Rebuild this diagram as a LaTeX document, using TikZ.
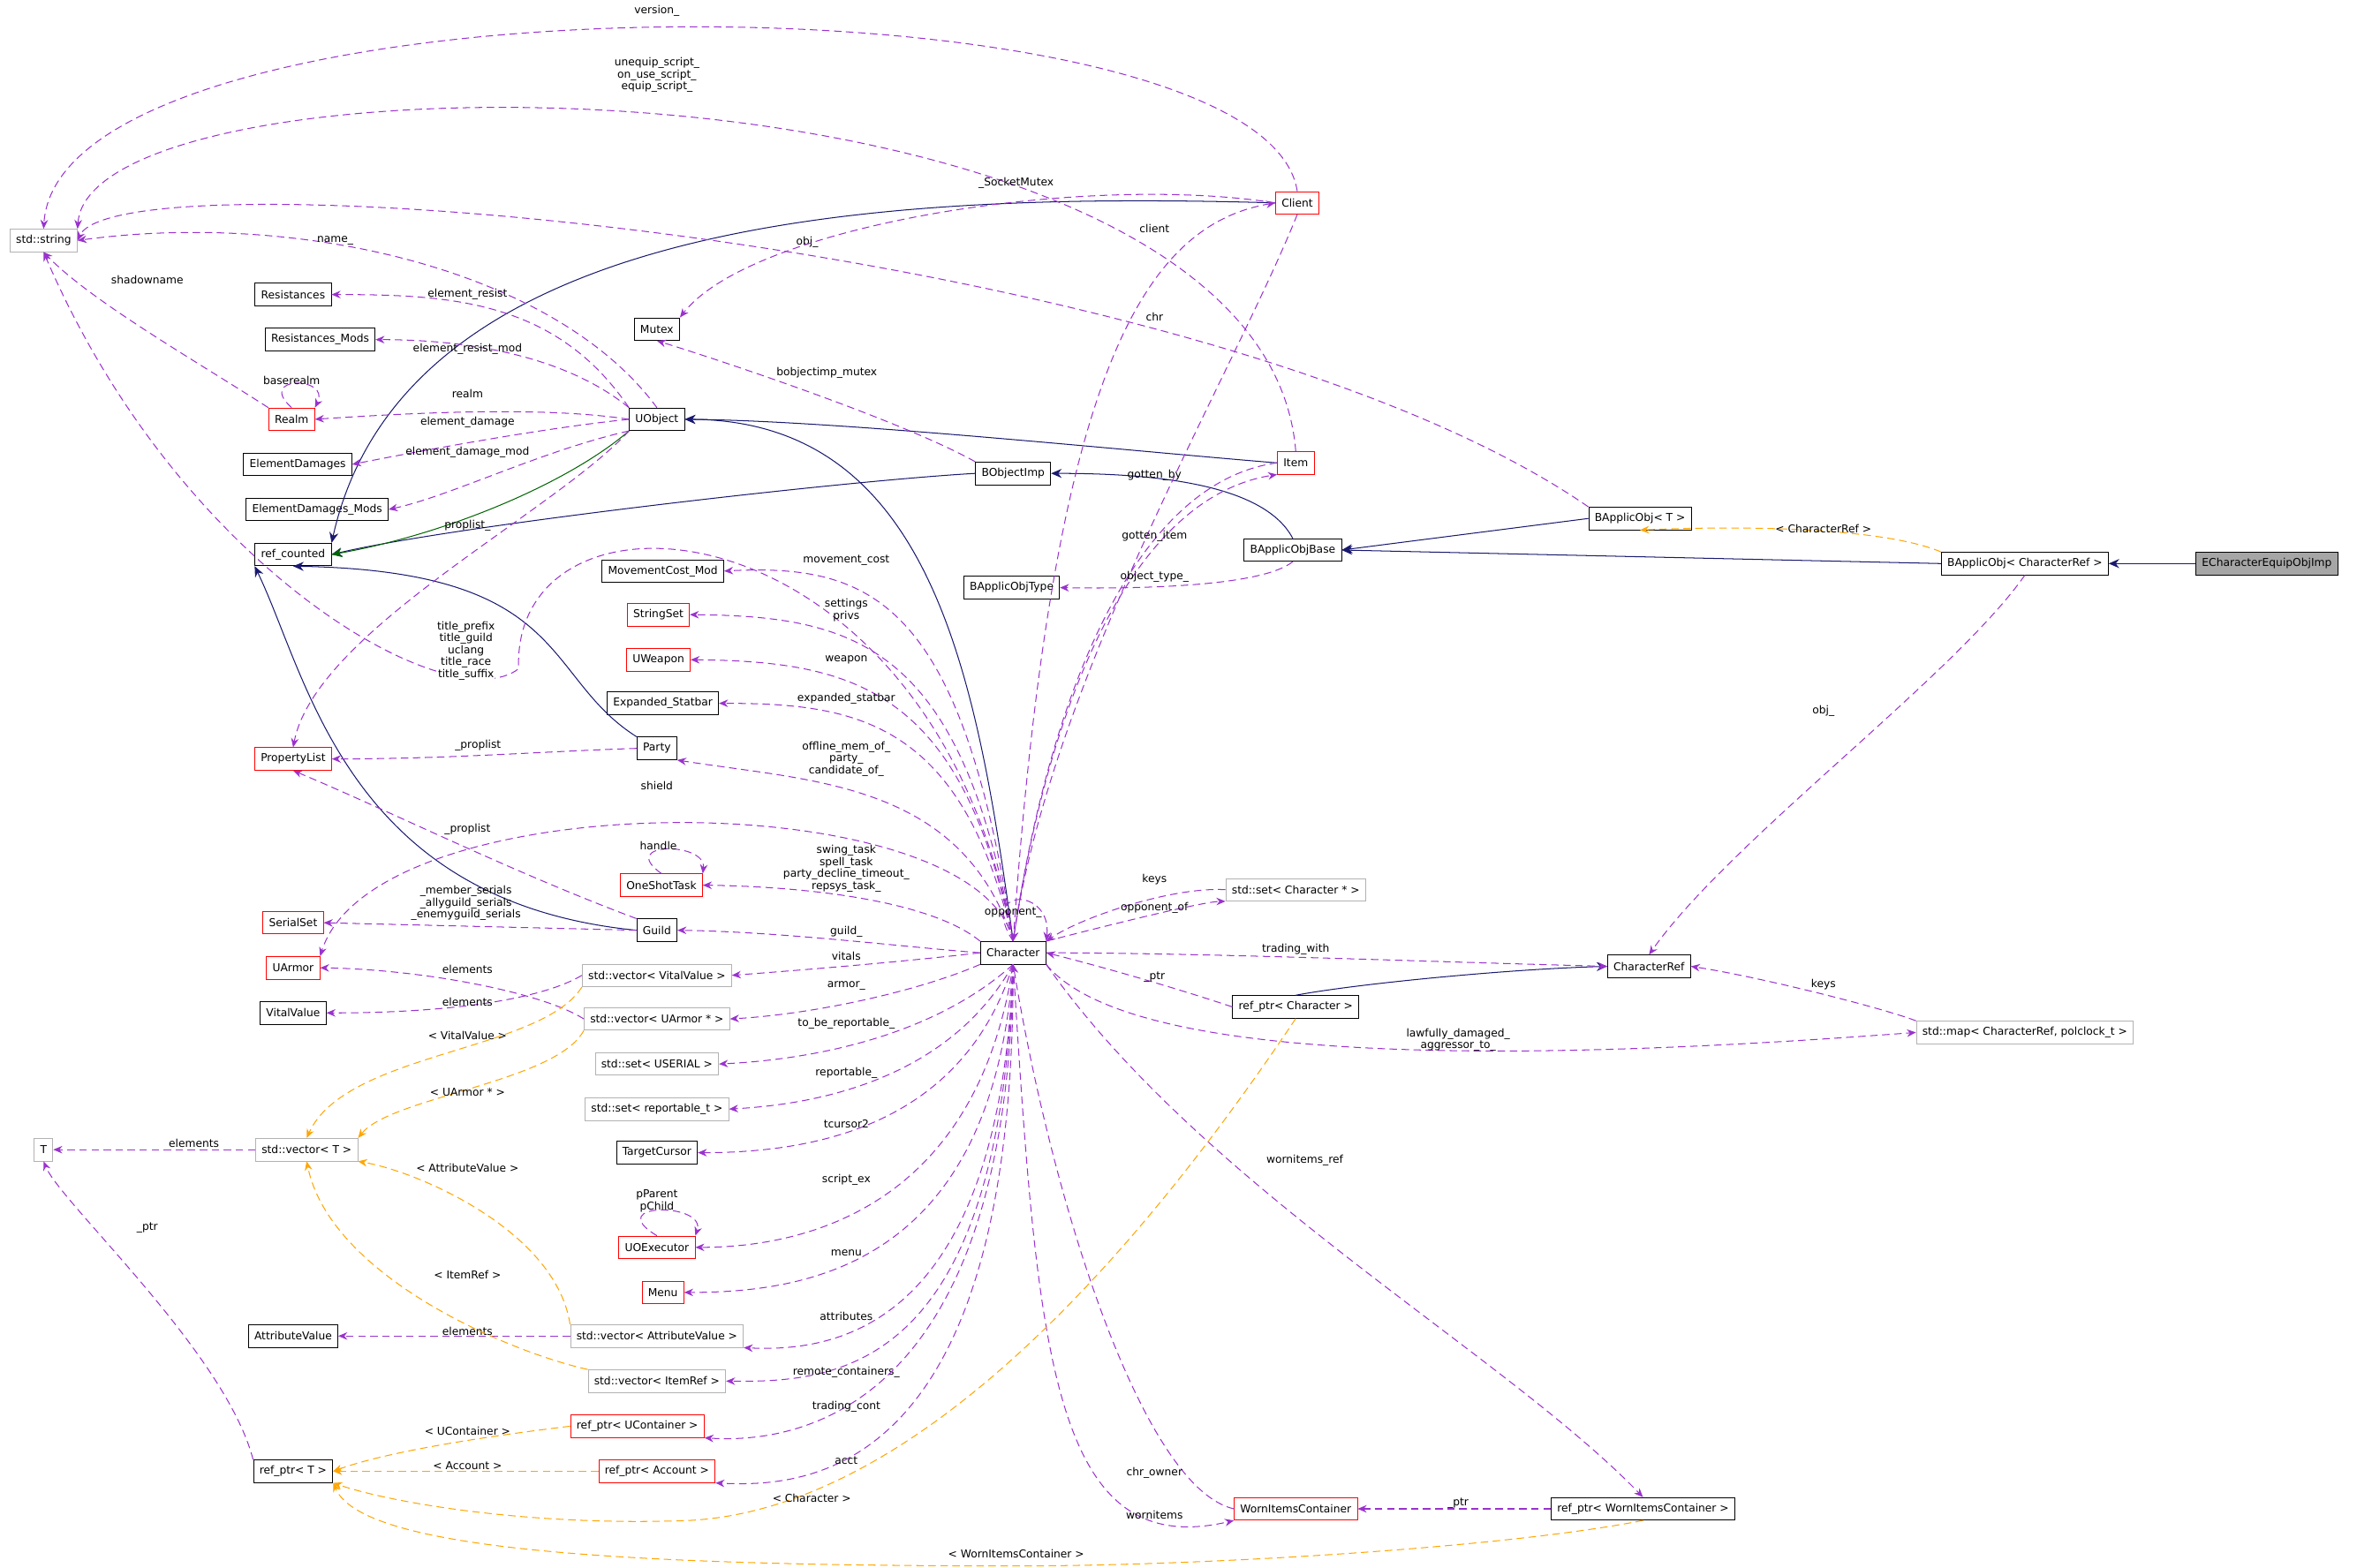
\documentclass[tikz,border=0pt]{standalone}
\usepackage{fontspec}
\setmainfont{DejaVu Sans}
\usetikzlibrary{arrows.meta}
\definecolor{usecol}{RGB}{154,50,205}
\definecolor{inhcol}{RGB}{25,25,112}
\definecolor{tplcol}{RGB}{255,165,0}
\definecolor{grncol}{RGB}{0,100,0}
\tikzset{
  cls/.style={draw=black,fill=white,font=\fontsize{7.2}{8}\selectfont,inner xsep=4pt,inner ysep=0pt,minimum height=15pt,line width=0.5pt},
  redcls/.style={cls,draw=red},
  graycls/.style={cls,draw=black!30},
  lbl/.style={font=\fontsize{7.2}{8}\selectfont,align=center,inner sep=0pt},
  use/.style={draw=usecol,dashed,dash pattern=on 5pt off 3pt,-{Stealth[length=6pt,width=5pt]}},
  inh/.style={draw=inhcol,-{Stealth[length=7pt,width=6pt]}},
  tpl/.style={draw=tplcol,dashed,dash pattern=on 5pt off 3pt,-{Stealth[length=6pt,width=5pt]}},
}
\begin{document}
\begin{tikzpicture}[x=1pt,y=1pt,yscale=-1,line width=0.6pt]
\useasboundingbox (0,0) rectangle (1568,1043);

% left column
\node[graycls] (string) at (29,160) {std::string};
\node[graycls] (T) at (29,765) {T};
\node[cls] (resist) at (195,196) {Resistances};
\node[cls] (resistmods) at (213,226) {Resistances\_Mods};
\node[redcls] (realm) at (194,279) {Realm};
\node[cls] (eldmg) at (198,309) {ElementDamages};
\node[cls] (eldmgmods) at (211,339) {ElementDamages\_Mods};
\node[cls] (refcounted) at (195,369) {ref\_counted};
\node[redcls] (proplist) at (195,505) {PropertyList};
\node[redcls] (serialset) at (195,614) {SerialSet};
\node[redcls] (uarmor) at (195,644) {UArmor};
\node[cls] (vital) at (195,674) {VitalValue};
\node[graycls] (vecT) at (204,765) {std::vector< T >};
\node[cls] (attrval) at (195,889) {AttributeValue};
\node[cls] (refptrT) at (195,979) {ref\_ptr< T >};

% middle column
\node[cls] (mutex) at (437,219) {Mutex};
\node[cls] (uobject) at (437,279) {UObject};
\node[cls] (movcost) at (441,380) {MovementCost\_Mod};
\node[redcls] (stringset) at (438,409) {StringSet};
\node[redcls] (uweapon) at (438,439) {UWeapon};
\node[cls] (statbar) at (441,468) {Expanded\_Statbar};
\node[cls] (party) at (437,498) {Party};
\node[redcls] (oneshot) at (440,589) {OneShotTask};
\node[cls] (guild) at (437,619) {Guild};
\node[graycls] (vecvital) at (437,649) {std::vector< VitalValue >};
\node[graycls] (vecarmor) at (437,678) {std::vector< UArmor * >};
\node[graycls] (setserial) at (437,708) {std::set< USERIAL >};
\node[graycls] (setrep) at (437,738) {std::set< reportable\_t >};
\node[cls] (tcursor) at (437,767) {TargetCursor};
\node[redcls] (uoexec) at (437,830) {UOExecutor};
\node[redcls] (menu) at (441,860) {Menu};
\node[graycls] (vecattr) at (437,889) {std::vector< AttributeValue >};
\node[graycls] (vecitem) at (437,919) {std::vector< ItemRef >};
\node[redcls] (refcont) at (424,949) {ref\_ptr< UContainer >};
\node[redcls] (refacct) at (437,979) {ref\_ptr< Account >};

% right part
\node[cls] (bobjimp) at (674,315) {BObjectImp};
\node[cls] (applictype) at (673,391) {BApplicObjType};
\node[cls] (char) at (674,634) {Character};
\node[redcls] (client) at (863,135) {Client};
\node[redcls] (item) at (862,308) {Item};
\node[cls] (applicbase) at (860,366) {BApplicObjBase};
\node[graycls] (setchar) at (862,592) {std::set< Character * >};
\node[cls] (refchar) at (862,670) {ref\_ptr< Character >};
\node[redcls] (worn) at (862,1004) {WornItemsContainer};
\node[cls] (applicT) at (1091,345) {BApplicObj< T >};
\node[cls] (charref) at (1097,643) {CharacterRef};
\node[cls] (refworn) at (1093,1004) {ref\_ptr< WornItemsContainer >};
\node[cls] (applicref) at (1347,375) {BApplicObj< CharacterRef >};
\node[graycls] (map) at (1347,687) {std::map< CharacterRef, polclock\_t >};
\node[cls,fill=black!35] (ecef) at (1508,375) {ECharacterEquipObjImp};

% inheritance
\draw[inh] (ecef) -- (applicref);
\draw[inh] (applicref.west) -- (applicbase.east);
\draw[inh] (applicT.west) -- (applicbase.east);
\draw[inh] (applicbase.north) .. controls (840,320) and (760,315) .. (bobjimp.east);
\draw[inh] (bobjimp.west) .. controls (560,320) and (300,350) .. (refcounted.east);
\draw[inh] (client.west) .. controls (600,128) and (270,140) .. (refcounted.north east);
\draw[inh,draw=grncol] (uobject.south west) .. controls (380,320) and (300,355) .. (refcounted.east);
\draw[inh] (party.north west) .. controls (360,450) and (380,380) .. (refcounted.south);
\draw[inh] (guild.west) .. controls (230,600) and (205,450) .. (refcounted.south west);
\draw[inh] (char.north) .. controls (650,450) and (620,280) .. (uobject.east);
\draw[inh] (item.west) .. controls (750,300) and (560,280) .. (uobject.east);
\draw[inh] (refchar.north) .. controls (900,655) and (1000,645) .. (charref.west);

% usage top
\draw[use] (client.north) .. controls (840,-22) and (40,-22) .. (string.north);
\node[lbl] (l-version) at (437,7) {version\_};
\draw[use] (item.north) .. controls (840,28) and (60,28) .. (string.north east);
\node[lbl] (l-script) at (437,50) {unequip\_script\_\\on\_use\_script\_\\equip\_script\_};
\draw[use] (applicT.north west) .. controls (800,160) and (80,100) .. (string.east);
\node[lbl] (l-obj) at (537,161) {obj\_};
\draw[use] (client.west) .. controls (720,115) and (500,150) .. (mutex.north east);
\node[lbl] (l-sock) at (676,122) {\_SocketMutex};
\draw[use] (uobject.north) .. controls (370,180) and (200,140) .. (string.east);
\node[lbl] (l-name) at (223,160) {name\_};
\draw[use] (realm.north west) .. controls (130,240) and (60,200) .. (string.south);
\node[lbl] (l-shadow) at (98,186) {shadowname};
\draw[use] (realm.north) .. controls (170,250) and (220,250) .. (realm.north east);
\node[lbl] (l-base) at (194,253) {baserealm};
\draw[use] (bobjimp.north west) .. controls (600,280) and (480,240) .. (mutex.south);
\node[lbl] (l-bmutex) at (550,248) {bobjectimp\_mutex};

% UObject members
\draw[use] (uobject.north west) .. controls (370,200) and (300,196) .. (resist.east);
\node[lbl] (l-er) at (311,196) {element\_resist};
\draw[use] (uobject.north west) .. controls (380,240) and (320,226) .. (resistmods.east);
\node[lbl] (l-erm) at (311,232) {element\_resist\_mod};
\draw[use] (uobject.west) .. controls (360,270) and (270,275) .. (realm.east);
\node[lbl] (l-realm) at (311,262) {realm};
\draw[use] (uobject.west) .. controls (360,285) and (280,300) .. (eldmg.east);
\node[lbl] (l-ed) at (311,281) {element\_damage};
\draw[use] (uobject.south west) .. controls (360,300) and (300,330) .. (eldmgmods.east);
\node[lbl] (l-edm) at (311,301) {element\_damage\_mod};
\draw[use] (uobject.south west) .. controls (370,340) and (210,420) .. (proplist.north);
\node[lbl] (l-prop) at (311,350) {proplist\_};

% Character members, upper
\draw[use] (char.north) .. controls (620,330) and (340,310) .. (345,445) .. controls (300,480) and (120,380) .. (string.south);
\node[lbl,fill=white] (l-title) at (310,433) {title\_prefix\\title\_guild\\uclang\\title\_race\\title\_suffix};
\draw[use] (char.north) .. controls (640,400) and (580,375) .. (movcost.east);
\node[lbl] (l-mov) at (563,373) {movement\_cost};
\draw[use] (char.north) .. controls (640,430) and (570,410) .. (stringset.east);
\node[lbl] (l-set) at (563,406) {settings\\privs};
\draw[use] (char.north) .. controls (640,460) and (570,440) .. (uweapon.east);
\node[lbl] (l-weap) at (563,439) {weapon};
\draw[use] (char.north) .. controls (640,480) and (570,468) .. (statbar.east);
\node[lbl] (l-stat) at (563,465) {expanded\_statbar};
\draw[use] (char.north) .. controls (640,520) and (540,520) .. (party.south east);
\node[lbl] (l-party) at (563,505) {offline\_mem\_of\_\\party\_\\candidate\_of\_};
\draw[use] (char.north) .. controls (650,520) and (250,520) .. (uarmor.north east);
\node[lbl] (l-shield) at (437,523) {shield};
\draw[use] (char.north west) .. controls (620,600) and (540,590) .. (oneshot.east);
\node[lbl] (l-task) at (563,578) {swing\_task\\spell\_task\\party\_decline\_timeout\_\\repsys\_task\_};
\draw[use] (oneshot.north) .. controls (410,560) and (470,560) .. (oneshot.north east);
\node[lbl] (l-handle) at (438,563) {handle};
\draw[use] (party.west) .. controls (360,500) and (300,505) .. (proplist.east);
\node[lbl] (l-pp1) at (318,496) {\_proplist};
\draw[use] (guild.north west) .. controls (340,580) and (260,540) .. (proplist.south);
\node[lbl] (l-pp2) at (311,552) {\_proplist};
\draw[use] (guild.west) -- (serialset.east);
\node[lbl] (l-ser) at (310,601) {\_member\_serials\\\_allyguild\_serials\\\_enemyguild\_serials};

% Character members, lower
\draw[use] (char.west) .. controls (600,630) and (520,620) .. (guild.east);
\node[lbl] (l-guild) at (563,620) {guild\_};
\draw[use] (char.west) .. controls (600,640) and (540,645) .. (vecvital.east);
\node[lbl] (l-vitals) at (563,636) {vitals};
\draw[use] (char.south west) .. controls (610,660) and (540,675) .. (vecarmor.east);
\node[lbl] (l-armor) at (563,656) {armor\_};
\draw[use] (char.south) .. controls (620,690) and (540,705) .. (setserial.east);
\node[lbl] (l-tbr) at (563,681) {to\_be\_reportable\_};
\draw[use] (char.south) .. controls (630,720) and (540,735) .. (setrep.east);
\node[lbl] (l-rep) at (563,714) {reportable\_};
\draw[use] (char.south) .. controls (640,750) and (540,767) .. (tcursor.east);
\node[lbl] (l-tc) at (563,748) {tcursor2};
\draw[use] (char.south) .. controls (650,800) and (540,830) .. (uoexec.east);
\node[lbl] (l-se) at (563,785) {script\_ex};
\draw[use] (uoexec.north) .. controls (400,800) and (470,800) .. (uoexec.north east);
\node[lbl] (l-pp) at (437,799) {pParent\\pChild};
\draw[use] (char.south) .. controls (660,840) and (540,860) .. (menu.east);
\node[lbl] (l-menu) at (563,834) {menu};
\draw[use] (char.south) .. controls (665,880) and (560,900) .. (vecattr.south east);
\node[lbl] (l-attr) at (563,876) {attributes};
\draw[use] (char.south) .. controls (665,910) and (560,920) .. (vecitem.east);
\node[lbl] (l-rc) at (563,913) {remote\_containers\_};
\draw[use] (char.south) .. controls (670,950) and (520,960) .. (refcont.south east);
\node[lbl] (l-tcont) at (563,936) {trading\_cont};
\draw[use] (char.south) .. controls (675,980) and (540,990) .. (refacct.south east);
\node[lbl] (l-acct) at (563,972) {acct};
\draw[use] (vecvital.west) .. controls (360,665) and (300,674) .. (vital.east);
\node[lbl] (l-el1) at (311,667) {elements};
\draw[use] (vecarmor.west) .. controls (360,660) and (280,645) .. (uarmor.east);
\node[lbl] (l-el2) at (311,645) {elements};
\draw[use] (vecattr.west) -- (attrval.east);
\node[lbl] (l-el3) at (311,886) {elements};
\draw[use] (vecT.west) -- (T.east);
\node[lbl] (l-el4) at (129,761) {elements};
\draw[use] (refptrT.north west) .. controls (150,900) and (40,800) .. (T.south);
\node[lbl] (l-ptr1) at (98,817) {\_ptr};

% Character, right side
\draw[use] (char.north) .. controls (700,250) and (760,150) .. (client.west);
\node[lbl] (l-client) at (768,152) {client};
\draw[use] (client.south) .. controls (820,250) and (700,450) .. (char.north);
\node[lbl] (l-chr) at (768,211) {chr};
\draw[use] (item.west) .. controls (760,320) and (700,450) .. (char.north);
\node[lbl] (l-gby) at (768,316) {gotten\_by};
\draw[use] (char.north) .. controls (700,450) and (760,330) .. (item.south west);
\node[lbl] (l-gitem) at (768,357) {gotten\_item};
\draw[use] (applicbase.south) .. controls (840,390) and (760,392) .. (applictype.east);
\node[lbl] (l-otype) at (768,384) {object\_type\_};
\draw[use] (char.north) .. controls (650,590) and (700,590) .. (char.north east);
\node[lbl] (l-opp) at (674,607) {opponent\_};
\draw[use] (setchar.west) .. controls (780,590) and (720,610) .. (char.north east);
\node[lbl] (l-keys1) at (768,585) {keys};
\draw[use] (char.north east) .. controls (740,615) and (800,600) .. (setchar.south west);
\node[lbl] (l-oppof) at (768,604) {opponent\_of};
\draw[use] (char.east) .. controls (800,634) and (950,640) .. (charref.west);
\node[lbl] (l-trade) at (862,632) {trading\_with};
\draw[use] (refchar.west) .. controls (790,660) and (740,645) .. (char.east);
\node[lbl] (l-ptr2) at (768,650) {\_ptr};
\draw[use] (char.south east) .. controls (760,720) and (1100,700) .. (map.west);
\node[lbl] (l-lawful) at (970,692) {lawfully\_damaged\_\\aggressor\_to\_};
\draw[use] (map.north west) .. controls (1250,670) and (1170,650) .. (charref.east);
\node[lbl] (l-keys2) at (1213,655) {keys};
\draw[use] (applicref.south) .. controls (1300,450) and (1150,560) .. (charref.north);
\node[lbl] (l-obj2) at (1213,473) {obj\_};
\draw[use] (char.south east) .. controls (800,790) and (1000,900) .. (refworn.north);
\node[lbl] (l-wref) at (868,772) {wornitems\_ref};
\draw[use] (worn.west) .. controls (760,990) and (700,800) .. (char.south);
\node[lbl] (l-owner) at (768,980) {chr\_owner};
\draw[use] (char.south) .. controls (690,900) and (700,1040) .. (worn.south west);
\node[lbl] (l-worn) at (768,1008) {wornitems};
\draw[use] (refworn.west) -- (worn.east);
\node[lbl] (l-ptr3) at (970,1000) {\_ptr};

% template instances
\draw[tpl] (applicref.north west) .. controls (1250,350) and (1150,350) .. (applicT.south);
\node[lbl] (l-tcr) at (1213,352) {< CharacterRef >};
\draw[tpl] (vecvital.south west) .. controls (360,700) and (230,700) .. (vecT.north);
\node[lbl] (l-tvv) at (311,689) {< VitalValue >};
\draw[tpl] (vecarmor.south west) .. controls (370,720) and (260,730) .. (vecT.north east);
\node[lbl] (l-tua) at (311,727) {< UArmor * >};
\draw[tpl] (vecattr.north west) .. controls (370,820) and (280,780) .. (vecT.south east);
\node[lbl] (l-tav) at (311,777) {< AttributeValue >};
\draw[tpl] (vecitem.north west) .. controls (340,900) and (220,850) .. (vecT.south);
\node[lbl] (l-tir) at (311,848) {< ItemRef >};
\draw[tpl] (refcont.west) .. controls (330,955) and (260,965) .. (refptrT.east);
\node[lbl] (l-tuc) at (311,952) {< UContainer >};
\draw[tpl] (refacct.west) -- (refptrT.east);
\node[lbl] (l-tac) at (311,975) {< Account >};
\draw[tpl] (refchar.south) .. controls (780,800) and (620,1010) .. (450,1012) .. controls (350,1015) and (260,1000) .. (refptrT.south east);
\node[lbl] (l-tch) at (540,997) {< Character >};
\draw[tpl] (refworn.south) .. controls (1000,1030) and (800,1042) .. (676,1042) .. controls (400,1042) and (240,1030) .. (refptrT.south east);
\node[lbl] (l-twi) at (676,1034) {< WornItemsContainer >};
\end{tikzpicture}
\end{document}
